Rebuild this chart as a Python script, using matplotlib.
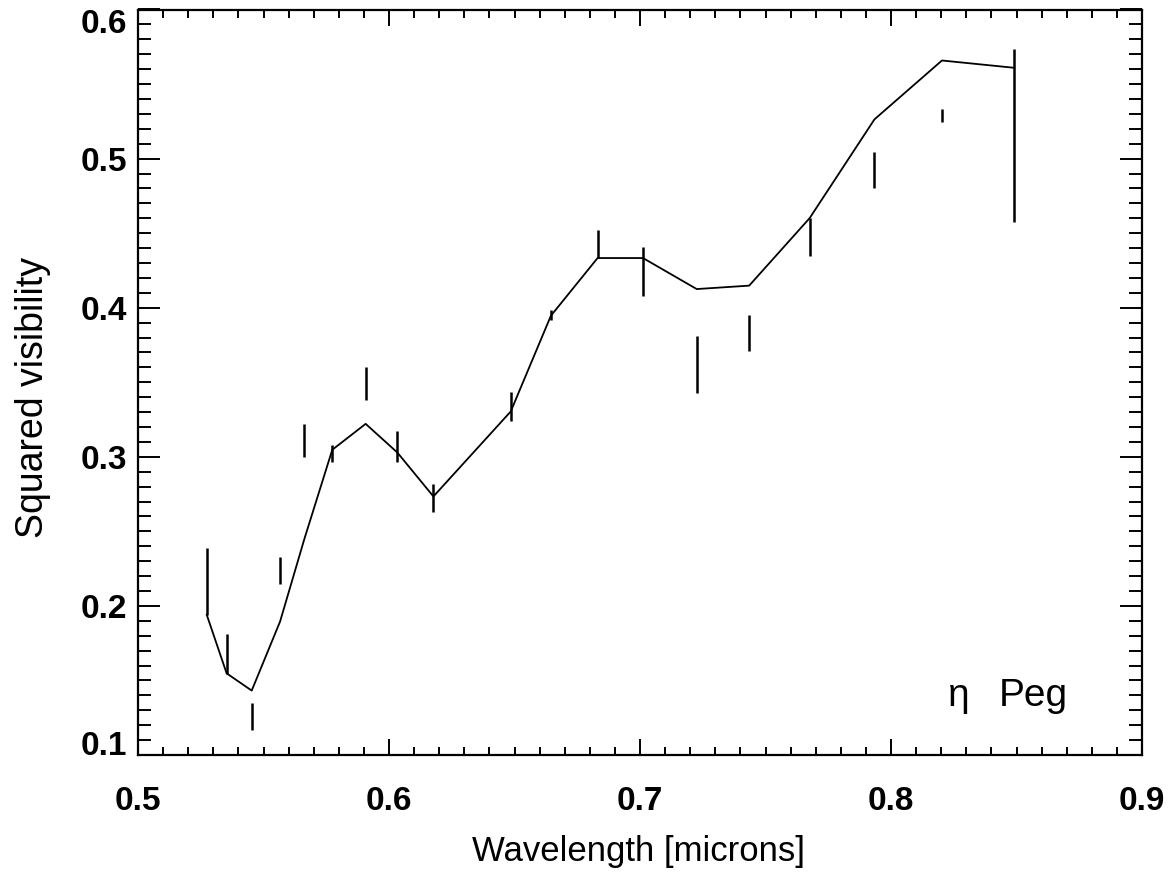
import numpy as np
import matplotlib
matplotlib.use("Agg")
import matplotlib.pyplot as plt
from matplotlib.ticker import MultipleLocator, FormatStrFormatter

plt.rcParams['font.family'] = ['Liberation Sans', 'DejaVu Sans']

# measured squared visibilities (error bars)
wl = [0.5274, 0.5353, 0.5453, 0.5566, 0.5663, 0.5774, 0.5907, 0.6033, 0.6177, 0.6485,
      0.6645, 0.6831, 0.7012, 0.7226, 0.7435, 0.7676, 0.7934, 0.8203, 0.8491]
v2 = [0.2165, 0.168, 0.1258, 0.2238, 0.3107, 0.3024, 0.3494, 0.3068, 0.2726, 0.3337,
      0.3953, 0.4426, 0.4244, 0.3617, 0.383, 0.4473, 0.4922, 0.529, 0.5157]
v2_err = [0.0225, 0.0134, 0.009, 0.009, 0.011, 0.0056, 0.011, 0.0106, 0.0093, 0.010,
          0.0034, 0.0093, 0.0163, 0.019, 0.012, 0.0129, 0.012, 0.0044, 0.058]

# model curve
model = [0.194, 0.1548, 0.1432, 0.1895, 0.245, 0.3047, 0.3221, 0.3029, 0.2734, 0.3304,
         0.3946, 0.4333, 0.4333, 0.4125, 0.4148, 0.4601, 0.5263, 0.5658, 0.5609]

W, H = 1171, 875
fig = plt.figure(figsize=(W / 100, H / 100), dpi=100)
ax = fig.add_axes([138 / W, 1 - 755 / H, (1142 - 138) / W, (755 - 9.5) / H])

wl = np.array(wl)
v2 = np.array(v2)
v2_err = np.array(v2_err)

ax.plot(wl, model, color='k', lw=1.3)
ax.vlines(wl, v2 - v2_err, v2 + v2_err, color='k', lw=1.8)

ax.set_xlim(0.5, 0.9)
ax.set_ylim(0.1, 0.6)
ax.xaxis.set_major_locator(MultipleLocator(0.1))
ax.xaxis.set_minor_locator(MultipleLocator(0.01))
ax.yaxis.set_major_locator(MultipleLocator(0.1))
ax.yaxis.set_minor_locator(MultipleLocator(0.01))
ax.xaxis.set_major_formatter(FormatStrFormatter('%.1f'))
ax.yaxis.set_major_formatter(FormatStrFormatter('%.1f'))

for s in ax.spines.values():
    s.set_linewidth(1.6)

ax.tick_params(axis='x', which='major', direction='in', length=11.5, width=1.4,
               top=True, bottom=True, pad=22, labelsize=24)
ax.tick_params(axis='x', which='minor', direction='in', length=5.8, width=1.4,
               top=True, bottom=True)
ax.tick_params(axis='y', which='major', direction='in', length=15.8, width=1.4,
               left=True, right=True, pad=8, labelsize=24)
ax.tick_params(axis='y', which='minor', direction='in', length=9.4, width=1.4,
               left=True, right=True)
for lab in ax.get_xticklabels() + ax.get_yticklabels():
    lab.set_fontweight('bold')

fig.canvas.draw()
for lab in ax.get_yticklabels():
    if lab.get_text() == '0.1':
        lab.set_va('baseline')
    elif lab.get_text() == '0.6':
        lab.set_va('top')

fig.text(638 / W, 1 - 852 / H, 'Wavelength [microns]', ha='center', va='center', fontsize=25)
fig.text(33 / W, 1 - 397 / H, 'Squared visibility', ha='center', va='center',
         rotation=90, fontsize=27)
fig.text(948 / W, 1 - 706 / H, 'η', ha='left', va='baseline', fontsize=28)
fig.text(999 / W, 1 - 706 / H, 'Peg', ha='left', va='baseline', fontsize=28)

fig.savefig('out.png', dpi=100)
